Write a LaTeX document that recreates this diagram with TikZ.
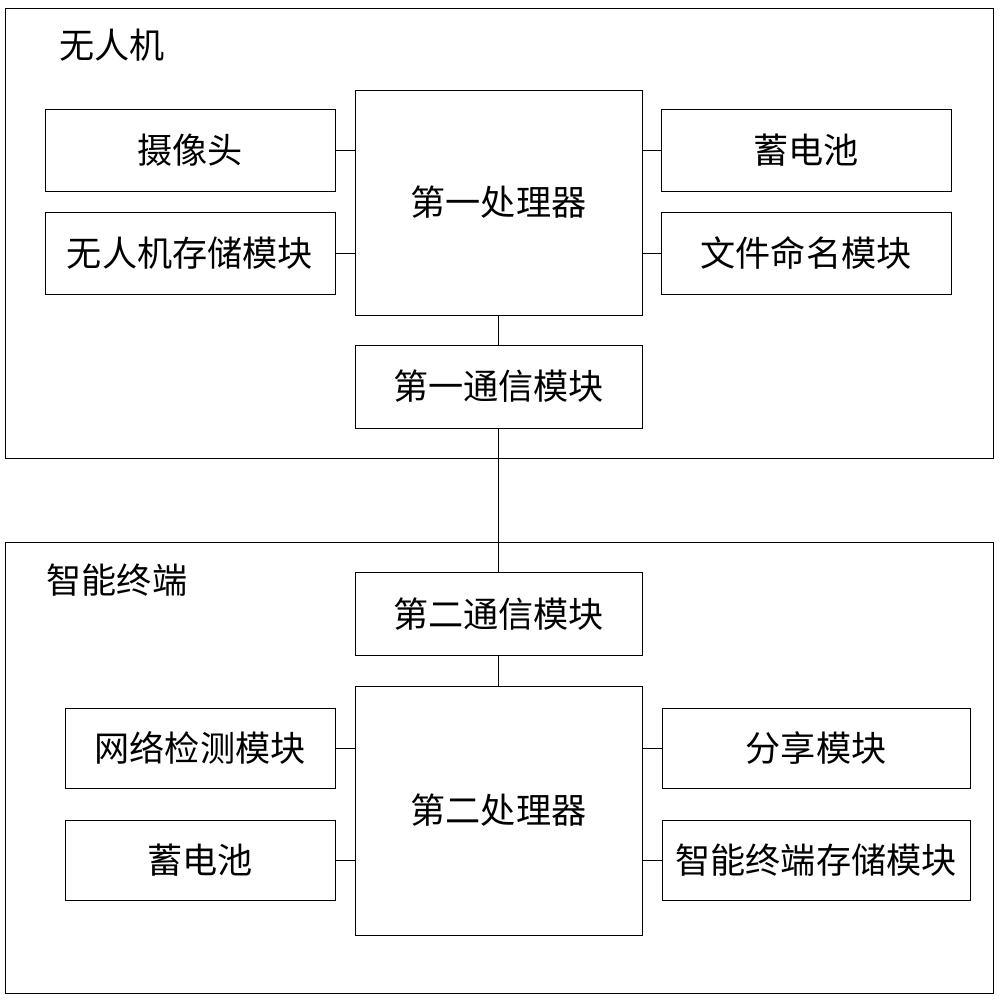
\documentclass[tikz,border=0pt]{standalone}
\usepackage{fontspec}
\setmainfont{Noto Sans CJK SC}
\tikzset{
	box/.style={draw, line width=0.8pt, inner sep=0pt, font=\fontsize{30}{34}\selectfont},
	side/.style={box, minimum width=8.7cm, minimum height=2.46cm},
	proc/.style={box, minimum width=8.61cm},
	wire/.style={line width=0.8pt}
}
\begin{document}
\begin{tikzpicture}[x=0.03cm,y=-0.03cm]
	\useasboundingbox (0,0) rectangle (998,1000);
	%frames
	\draw[wire] (5,8) rectangle (993,458);
	\draw[wire] (5,542) rectangle (993,993);
	\node[font=\fontsize{30}{34}\selectfont] (uav) at (112,45) {无人机};
	\node[font=\fontsize{30}{34}\selectfont] (term) at (117,580) {智能终端};
	
	%top
	\node[proc, minimum height=6.75cm] (p1) at (498.5,202.5) {第一处理器};
	\node[side] (cam)   at (190,150) {摄像头};
	\node[side] (ustor) at (190,253) {无人机存储模块};
	\node[side] (bat1)  at (806,150) {蓄电池};
	\node[side] (fname) at (806,253) {文件命名模块};
	\node[proc, minimum height=2.49cm] (c1) at (498.5,386.5) {第一通信模块};
	
	%bottom
	\node[proc, minimum height=2.49cm] (c2) at (498.5,614) {第二通信模块};
	\node[proc, minimum height=7.47cm] (p2) at (498.5,810.5) {第二处理器};
	\node[side, minimum width=8.1cm, minimum height=2.4cm]  (net)   at (200,748) {网络检测模块};
	\node[side, minimum width=8.1cm, minimum height=2.4cm]  (bat2)  at (200,860) {蓄电池};
	\node[side, minimum width=9.24cm, minimum height=2.4cm] (share) at (816,748) {分享模块};
	\node[side, minimum width=9.24cm, minimum height=2.4cm] (tstor) at (816,860) {智能终端存储模块};
	
	%lines
	\draw[wire] (cam) -- (cam -| p1.west);
	\draw[wire] (ustor) -- (ustor -| p1.west);
	\draw[wire] (bat1) -- (bat1 -| p1.east);
	\draw[wire] (fname) -- (fname -| p1.east);
	\draw[wire] (p1) -- (c1);
	\draw[wire] (c1) -- (c2);
	\draw[wire] (c2) -- (p2);
	\draw[wire] (net) -- (net -| p2.west);
	\draw[wire] (bat2) -- (bat2 -| p2.west);
	\draw[wire] (share) -- (share -| p2.east);
	\draw[wire] (tstor) -- (tstor -| p2.east);
\end{tikzpicture}
\end{document}
